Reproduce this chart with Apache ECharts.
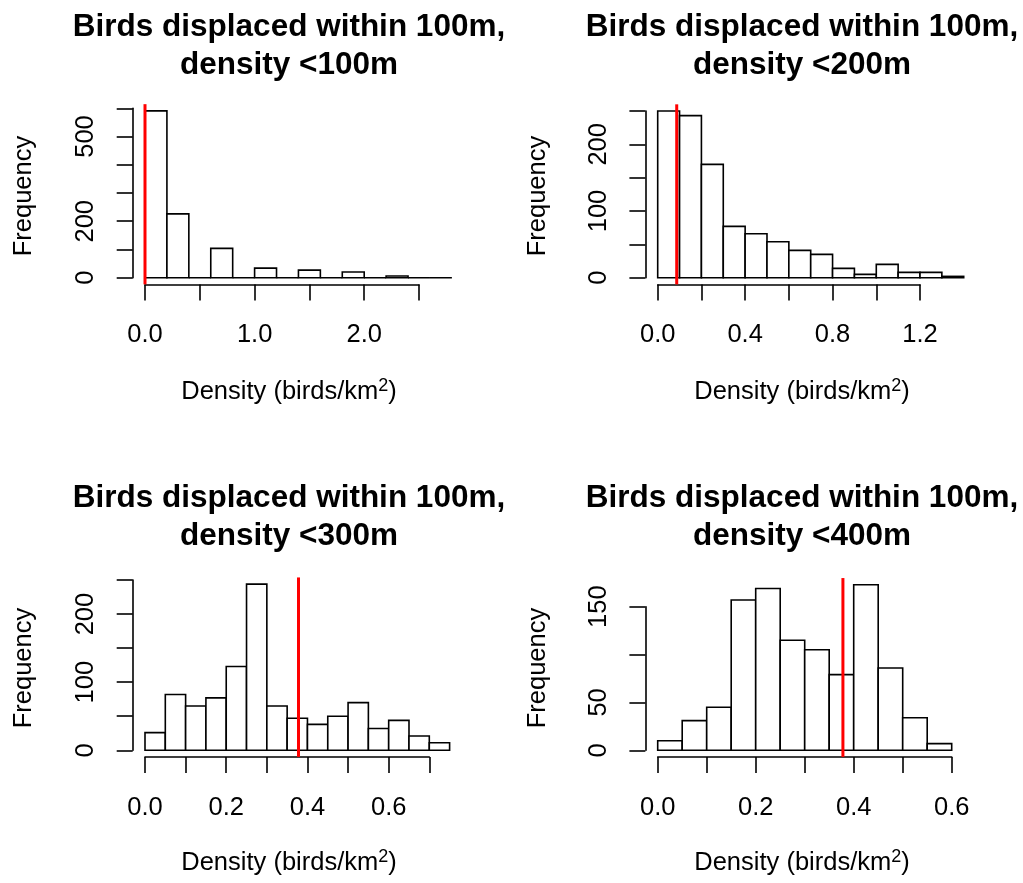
<!DOCTYPE html>
<html>
<head>
<meta charset="utf-8">
<script src="https://cdn.jsdelivr.net/npm/echarts@6/dist/echarts.min.js"></script>
<style>
html,body{margin:0;padding:0;background:#fff;}
#c{width:1023px;height:883px;}
</style>
</head>
<body>
<div id="c"></div>
<script>
// ---------- data ----------
const titles = [
  'Birds displaced within 100m,\ndensity <100m',
  'Birds displaced within 100m,\ndensity <200m',
  'Birds displaced within 100m,\ndensity <300m',
  'Birds displaced within 100m,\ndensity <400m'
];
const breaks1 = [0, 0.2, 0.4, 0.6, 0.8, 1.0, 1.2, 1.4, 1.6, 1.8, 2.0, 2.2, 2.4, 2.6, 2.8];
const counts1 = [591, 226, 0, 104, 0, 34, 0, 27, 0, 20, 0, 6, 0, 0];
const breaks2 = [0, 0.1, 0.2, 0.3, 0.4, 0.5, 0.6, 0.7, 0.8, 0.9, 1.0, 1.1, 1.2, 1.3, 1.4];
const counts2 = [250, 243, 170, 77, 66, 54, 41, 35, 14, 5, 20, 8, 8, 2];
const breaks3 = [0, 0.05, 0.1, 0.15, 0.2, 0.25, 0.3, 0.35, 0.4, 0.45, 0.5, 0.55, 0.6, 0.65, 0.7, 0.75];
const counts3 = [26, 82, 65, 77, 123, 244, 65, 47, 38, 50, 70, 32, 44, 21, 11];
const breaks4 = [0, 0.05, 0.1, 0.15, 0.2, 0.25, 0.3, 0.35, 0.4, 0.45, 0.5, 0.55, 0.6];
const counts4 = [10, 31, 45, 157, 169, 115, 105, 79, 173, 86, 34, 7];
const observed = [0.0, 0.087, 0.378, 0.378];

// axis tick ranges and the tick labels that are printed
const xTickRange = [[0, 2.5, 0.5], [0, 1.2, 0.2], [0, 0.7, 0.1], [0, 0.6, 0.1]];
const yTickRange = [[0, 600, 100], [0, 250, 50], [0, 250, 50], [0, 150, 50]];
const xTickLabels = [['0.0', '1.0', '2.0'], ['0.0', '0.4', '0.8', '1.2'], ['0.0', '0.2', '0.4', '0.6'], ['0.0', '0.2', '0.4', '0.6']];
const yTickLabels = [['0', '200', '500'], ['0', '100', '200'], ['0', '100', '200'], ['0', '50', '150']];
const xLabel = 'Density (birds/km';
const yLabel = 'Frequency';

// ---------- layout ----------
const FONT = '"Liberation Sans", Arial, Helvetica, sans-serif';
const grids = [
  {left: 145, top: 108.3, width: 274, height: 169.4},
  {left: 657.7, top: 111, width: 262.3, height: 166.7},
  {left: 145, top: 580, width: 284.3, height: 170.3},
  {left: 657.7, top: 606.7, width: 294, height: 143.6}
];
const panelCx = [289, 802, 289, 802];
const panelTop = [0, 0, 471, 471];
const yLabelX = [24, 537.5, 24, 537.5];
const yLabelY = [196, 196, 668, 668];

const breaks = [breaks1, breaks2, breaks3, breaks4];
const counts = [counts1, counts2, counts3, counts4];

const axisLineStyle = {color: '#000', width: 1.6};
const xAxes = [], yAxes = [], series = [], graphics = [];

for (let i = 0; i < 4; i++) {
  const xl = xTickLabels[i], yl = yTickLabels[i];
  xAxes.push({
    type: 'value', gridIndex: i, position: 'bottom',
    min: xTickRange[i][0], max: xTickRange[i][1], interval: xTickRange[i][2],
    offset: 6.7,
    axisLine: {show: true, onZero: false, lineStyle: axisLineStyle},
    axisTick: {show: true, length: 16, lineStyle: axisLineStyle},
    splitLine: {show: false},
    axisLabel: {
      margin: 38, color: '#000', fontSize: 25.5, fontFamily: FONT,
      formatter: function (v) { const s = v.toFixed(1); return xl.indexOf(s) >= 0 ? s : ''; }
    }
  });
  yAxes.push({
    type: 'value', gridIndex: i, position: 'left',
    min: yTickRange[i][0], max: yTickRange[i][1], interval: yTickRange[i][2],
    offset: 12.3,
    axisLine: {show: true, onZero: false, lineStyle: axisLineStyle},
    axisTick: {show: true, length: 16, lineStyle: axisLineStyle},
    splitLine: {show: false},
    axisLabel: {
      margin: 33.5, rotate: 90, color: '#000', fontSize: 25.5, fontFamily: FONT,
      formatter: function (v) { const s = String(Math.round(v)); return yl.indexOf(s) >= 0 ? s : ''; }
    }
  });

  const br = breaks[i], ct = counts[i];
  series.push({
    type: 'custom', xAxisIndex: i, yAxisIndex: i, clip: false, z: 2,
    data: ct.map((c, k) => [br[k], br[k + 1], c]),
    encode: {x: [0, 1], y: 2},
    renderItem: function (params, api) {
      const p0 = api.coord([api.value(0), api.value(2)]);
      const p1 = api.coord([api.value(1), 0]);
      return {
        type: 'rect',
        shape: {x: p0[0], y: p0[1], width: p1[0] - p0[0], height: p1[1] - p0[1]},
        style: {fill: '#fff', stroke: '#000', lineWidth: 1.6}
      };
    }
  });

  const m = Math.max.apply(null, ct);
  series.push({
    type: 'custom', xAxisIndex: i, yAxisIndex: i, clip: false, z: 5,
    data: [[observed[i], 0]],
    encode: {x: 0, y: 1},
    renderItem: function (params, api) {
      const x = api.value(0);
      const a = api.coord([x, 1.04 * m]);
      const b = api.coord([x, -0.04 * m]);
      return {
        type: 'line',
        shape: {x1: a[0], y1: a[1], x2: b[0], y2: b[1]},
        style: {stroke: '#ff0000', lineWidth: 3}
      };
    }
  });

  // title
  graphics.push({
    type: 'text', x: panelCx[i], y: panelTop[i] + 46,
    style: {
      text: titles[i], fill: '#000',
      font: 'bold 31.5px ' + FONT, fontSize: 31.5, fontWeight: 'bold', fontFamily: FONT,
      lineHeight: 38, align: 'center', textAlign: 'center', verticalAlign: 'middle', textVerticalAlign: 'middle'
    }
  });
  // x axis title
  graphics.push({
    type: 'text', x: panelCx[i], y: panelTop[i] + 392,
    style: {
      text: '{a|' + xLabel + '}{b|2}{a|)}', fill: '#000',
      align: 'center', textAlign: 'center', verticalAlign: 'middle', textVerticalAlign: 'middle',
      rich: {
        a: {fontSize: 25.5, fontFamily: FONT, lineHeight: 30, fill: '#000', color: '#000'},
        b: {fontSize: 18, fontFamily: FONT, lineHeight: 4, verticalAlign: 'top', fill: '#000', color: '#000'}
      }
    }
  });
  // y axis title
  graphics.push({
    type: 'text', x: yLabelX[i], y: yLabelY[i], rotation: Math.PI / 2,
    style: {
      text: yLabel, fill: '#000', font: '25.5px ' + FONT, fontSize: 25.5, fontFamily: FONT,
      align: 'center', textAlign: 'center', verticalAlign: 'middle', textVerticalAlign: 'middle'
    }
  });
}

const chart = echarts.init(document.getElementById('c'), null, {renderer: 'canvas'});
chart.setOption({
  animation: false,
  backgroundColor: '#fff',
  grid: grids,
  xAxis: xAxes,
  yAxis: yAxes,
  series: series,
  graphic: graphics
});
</script>
</body>
</html>
